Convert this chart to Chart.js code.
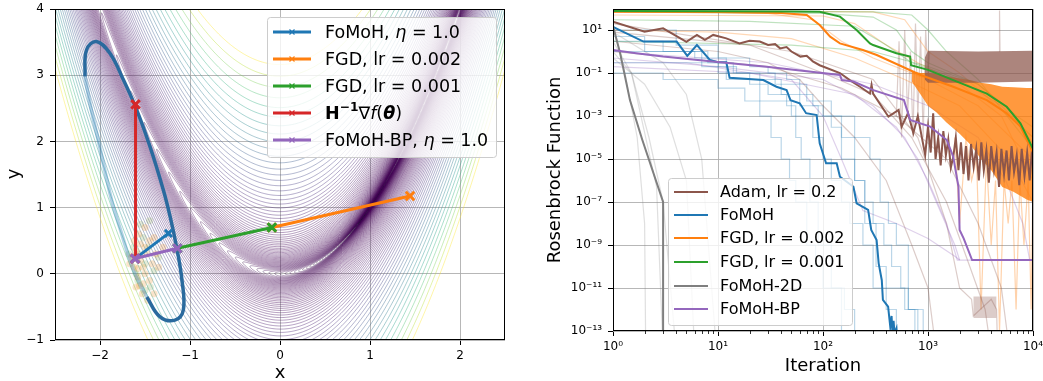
<!DOCTYPE html>
<html>
<head>
<meta charset="utf-8">
<title>FoMoH on Rosenbrock</title>
<script src="https://cdn.jsdelivr.net/npm/chart.js@4.4.1/dist/chart.umd.min.js"></script>
<style>
  html, body { margin: 0; padding: 0; background: #fff; }
  body { width: 1043px; height: 381px; position: relative; overflow: hidden; }
  canvas { position: absolute; top: 0; }
  #pathChart { left: 0; }
  #lossChart { left: 520px; }
</style>
</head>
<body>
<canvas id="pathChart" width="520" height="381"></canvas>
<canvas id="lossChart" width="523" height="381"></canvas>
<script>
const FONT = "DejaVu Sans";
Chart.defaults.font.family = FONT;
Chart.defaults.color = "#000";
Chart.defaults.animation = false;

const C = {
  blue: "#1f77b4", orange: "#ff7f0e", green: "#2ca02c", red: "#d62728",
  purple: "#9467bd", brown: "#8c564b", gray: "#7f7f7f",
};
const GRID = "rgba(170,170,170,0.85)";

// ---------- left panel: steps on the Rosenbrock surface ----------
const xTicksLeft = [-2, -1, 0, 1, 2];
const yTicksLeft = [-1, 0, 1, 2, 3, 4];

// f(x, y) = (a - x)^2 + b (y - x^2)^2
const rosenA = 1;
const rosenB = 100;
const levelDecades = [0.01, 0.1, 1, 10, 100];
const levelSteps = [1, 1.12, 1.26, 1.41, 1.58, 1.78, 2, 2.24, 2.51, 2.82,
  3.16, 3.55, 3.98, 4.47, 5.01, 5.62, 6.31, 7.08, 7.94, 8.91];
const levelTop = 1000;

const startPoint = { x: -1.61, y: 0.23 };
const fomohPath = [startPoint, { x: -1.24, y: 0.61 }];
const fgd2Path = [{ x: -0.09, y: 0.70 }, { x: 1.445, y: 1.175 }];
const fgd1Path = [{ x: -1.14, y: 0.385 }, { x: -0.09, y: 0.70 }];
const newtonPath = [startPoint, { x: -1.605, y: 2.56 }];
const fomohBpPath = [startPoint, { x: -1.14, y: 0.385 }];

const ellipseFront = [
  { x: -2.167, y: 2.98 }, { x: -2.15, y: 3.38 }, { x: -2.04, y: 3.51 },
  { x: -1.89, y: 3.33 }, { x: -1.74, y: 2.93 }, { x: -1.59, y: 2.47 },
  { x: -1.444, y: 1.92 }, { x: -1.297, y: 1.27 }, { x: -1.22, y: 0.86 },
  { x: -1.15, y: 0.41 }, { x: -1.09, y: -0.09 }, { x: -1.074, y: -0.547 },
  { x: -1.167, y: -0.70 }, { x: -1.333, y: -0.65 }, { x: -1.48, y: -0.35 },
];
const ellipseBack = [
  { x: -1.48, y: -0.35 }, { x: -1.63, y: 0.06 }, { x: -1.76, y: 0.61 },
  { x: -1.87, y: 1.11 }, { x: -2.0, y: 1.9 }, { x: -2.1, y: 2.5 },
  { x: -2.167, y: 2.98 },
];

const sampleOrange = [
  { x: -1.62, y: 0.1 }, { x: -1.58, y: -0.05 }, { x: -1.55, y: 0.2 }, { x: -1.5, y: 0.0 },
  { x: -1.52, y: -0.15 }, { x: -1.45, y: -0.1 }, { x: -1.6, y: 0.35 }, { x: -1.55, y: 0.45 },
  { x: -1.48, y: 0.3 }, { x: -1.42, y: 0.15 }, { x: -1.65, y: 0.25 }, { x: -1.57, y: 0.6 },
  { x: -1.5, y: 0.7 }, { x: -1.4, y: -0.3 }, { x: -1.45, y: 0.5 }, { x: -1.35, y: 0.1 },
  { x: -1.6, y: -0.2 }, { x: -1.53, y: -0.3 }, { x: -1.4, y: 0.55 }, { x: -1.3, y: 0.4 },
  { x: -1.67, y: 0.15 }, { x: -1.62, y: 0.5 }, { x: -1.47, y: -0.4 }, { x: -1.38, y: 0.3 },
  { x: -1.58, y: 0.08 }, { x: -1.52, y: 0.1 }, { x: -1.56, y: -0.18 }, { x: -1.5, y: 0.4 },
];
const sampleGreen = [
  { x: -1.6, y: 0.0 }, { x: -1.56, y: 0.3 }, { x: -1.5, y: 0.15 }, { x: -1.46, y: 0.4 },
  { x: -1.52, y: 0.55 }, { x: -1.44, y: -0.2 }, { x: -1.58, y: -0.1 }, { x: -1.4, y: 0.05 },
  { x: -1.63, y: 0.4 }, { x: -1.5, y: -0.25 }, { x: -1.35, y: 0.25 }, { x: -1.55, y: 0.75 },
  { x: -1.45, y: 0.8 }, { x: -1.68, y: 0.3 },
];

const pathLegend = [
  { color: C.blue, parts: [{ t: "FoMoH, " }, { t: "η", i: 1 }, { t: " = 1.0" }] },
  { color: C.orange, parts: [{ t: "FGD, lr = 0.002" }] },
  { color: C.green, parts: [{ t: "FGD, lr = 0.001" }] },
  { color: C.red, parts: [{ t: "H", b: 1 }, { t: "−1", b: 1, sup: 1 }, { t: "∇" },
    { t: "f", i: 1 }, { t: "(" }, { t: "θ", b: 1, i: 1 }, { t: ")" }] },
  { color: C.purple, parts: [{ t: "FoMoH-BP, " }, { t: "η", i: 1 }, { t: " = 1.0" }] },
];

// ---------- right panel: loss vs iteration ----------
const xMajorIt = [1, 10, 100, 1000, 10000];
const xMinorSteps = [2, 3, 4, 5, 6, 7, 8, 9];
const yMajorLoss = [1e1, 1e-1, 1e-3, 1e-5, 1e-7, 1e-9, 1e-11, 1e-13];

const adamIt = [1, 2, 3, 5, 6.3, 7.5, 9, 12, 16, 20, 25, 30, 35, 39, 45, 50, 61, 70, 80, 93,
  145, 180, 225, 280, 290, 300, 420, 525, 560, 645, 725, 800, 940,
  1000, 1060, 1120, 1180, 1250, 1320, 1400, 1480, 1560, 1650, 1740, 1840, 1950, 2060, 2180, 2300, 2430, 2570, 2720, 2880,
  3050, 3220, 3400, 3600, 3800, 4000, 4250, 4500, 4750, 5000, 5300, 5600, 5900, 6250, 6600, 7000, 7400, 7800, 8300, 8800,
  9300, 9700, 10000];
const adamLoss = [24.5, 8.3, 12, 2.8, 5.9, 3.5, 5.9, 4.1, 2.4, 3.2, 2.9, 2.0, 2.2, 1.4, 1.6, 1.0, 0.58, 0.63, 0.35, 0.23,
  0.1, 0.047, 0.023, 0.011, 0.028, 0.011, 9.3e-4, 1.9e-3, 3.2e-4, 1.35e-3, 1.6e-4, 1e-3, 1.55e-5,
  3.2e-4, 2e-5, 1.35e-3, 1e-5, 1e-4, 5e-6, 2e-4, 1.5e-5, 8e-5, 4e-6, 1.26e-5, 1e-4, 3e-6, 6e-5, 2e-6, 4e-5, 1e-6, 5e-5, 4.4e-6, 3e-5,
  1e-6, 6e-5, 3e-6, 2.5e-5, 8e-7, 4e-5, 3e-6, 2e-5, 5e-7, 3e-5, 2e-6, 2.5e-5, 1e-6, 4e-5, 2.5e-6, 1.5e-5, 6e-7, 3e-5, 1.6e-6, 2e-5,
  1e-6, 1.6e-5, 6.3e-6];

const fomohIt = [1, 1.95, 4.04, 5.1, 6.3, 8.4, 10, 12, 12.9, 27, 36, 45, 49, 60, 69, 87, 93, 107, 135, 145,
  195, 209, 269, 288, 324, 339, 363, 372, 417, 437, 450, 460, 470, 480, 501, 520];
const fomohLoss = [14.1, 2.9, 2.9, 0.63, 2.0, 0.40, 0.32, 0.32, 0.060, 0.047, 0.023, 0.016, 5.5e-3, 3.9e-3, 1.35e-3, 1.1e-3, 5.4e-5, 6.3e-6, 6.3e-6, 1.5e-6,
  5.1e-7, 8.7e-8, 4.3e-8, 5.0e-9, 1.7e-9, 1.4e-10, 2.3e-11, 2.8e-12, 1.35e-12, 1.6e-13, 5e-13, 6e-14, 3e-13, 8e-14, 1.35e-13, 1e-14];

const fgd2It = [1, 10, 40, 70, 93, 117, 145, 240, 325, 850, 1740, 3630, 5620, 7590, 10000];
const fgd2Loss = [71, 68, 62, 50, 17, 4.9, 2.4, 1.17, 0.69, 0.081, 0.023, 5.5e-3, 1.35e-3, 3.2e-4, 2e-5];

const fgd1It = [1, 10, 50, 93, 145, 209, 280, 300, 500, 676, 690, 1000, 1740, 3630, 5620, 7590, 10000];
const fgd1Loss = [76, 74, 72, 70, 42, 10, 2.4, 2.0, 0.83, 0.58, 0.23, 0.14, 0.047, 0.011, 2.7e-3, 4.6e-4, 3e-5];

const fomoh2dIt = [1, 1.17, 1.45, 1.9, 3, 3];
const fomoh2dLoss = [15, 0.83, 5.5e-3, 7.9e-5, 1e-7, 1e-14];

const fomohBpIt = [1, 1.66, 3, 8.9, 29, 145, 151, 195, 302, 590, 676, 1050, 1510, 1740, 1950, 2000, 2190, 2630, 10000];
const fomohBpLoss = [1.17, 0.83, 0.58, 0.34, 0.195, 0.081, 0.047, 0.04, 0.016, 5.5e-3, 6.5e-4, 3.2e-4, 7.6e-5, 1.26e-5, 5.1e-7, 5e-9, 2e-9, 2e-10, 2e-10];

// individual runs (faint)
const fomoh2dRunsIt = [[1, 1.3, 1.7, 2, 2.05], [1, 1.5, 2.2, 3, 4], [1, 2, 3.5, 5, 6], [1, 3, 5, 7, 9.7], [1, 1.5, 2.6, 3]];
const fomoh2dRunsLoss = [[20, 0.1, 1e-4, 1e-8, 1e-14], [3, 0.1, 1e-4, 1e-7, 1e-14], [0.5, 0.03, 3e-4, 1e-6, 1e-14],
  [8, 0.3, 1e-2, 1e-5, 1e-14], [1, 0.1, 5e-7, 1e-14]];

const fomohRunsIt = [
  [1, 3, 8, 14, 20, 30, 45, 55, 62, 75, 90, 120, 160, 200],
  [1, 4, 10, 20, 30, 45, 60, 80, 100, 150, 200, 250, 320, 400, 600, 750],
  [1, 10, 25, 40, 60, 90, 120, 150, 200, 250, 300, 380, 450, 550, 650, 800],
  [1, 6, 12, 25, 50, 80, 100, 120, 150, 180, 240, 300, 400, 500],
  [1, 2, 7, 15, 35, 70, 120, 200, 280, 350, 420, 500, 650, 900],
  [1, 3, 10, 18, 25, 32, 40, 48, 55, 70, 85, 100, 150],
];
const fomohRunsLoss = [
  [3, 1, 0.3, 0.1, 0.03, 0.01, 3e-3, 1e-4, 1e-5, 1e-7, 1e-9, 1e-11, 1e-12, 1e-14],
  [10, 2, 0.5, 0.2, 0.1, 0.05, 0.01, 3e-3, 1e-3, 1e-5, 1e-6, 1e-8, 1e-10, 1e-11, 1e-12, 1e-14],
  [0.3, 0.1, 0.05, 0.01, 3e-3, 1e-3, 3e-4, 1e-4, 1e-6, 1e-7, 1e-8, 1e-9, 1e-10, 1e-11, 1e-12, 1e-14],
  [1, 0.5, 0.05, 5e-3, 1e-3, 1e-4, 1e-5, 1e-6, 1e-7, 1e-8, 1e-9, 1e-11, 1e-12, 1e-14],
  [5, 1, 0.2, 0.1, 0.03, 5e-3, 1e-3, 1e-4, 1e-5, 1e-7, 1e-8, 1e-9, 1e-12, 1e-14],
  [0.1, 0.05, 0.02, 5e-3, 1e-3, 1e-4, 1e-5, 1e-6, 1e-7, 1e-9, 1e-10, 1e-11, 1e-14],
];

const fomohBpRunsIt = [
  [1, 10, 100, 300, 600, 1000, 1500, 1900, 10000],
  [1, 20, 200, 500, 800, 1200, 1800, 2000],
  [1, 30, 300, 1000, 3000, 5500, 8000, 9300, 10000],
  [1, 5, 50, 100, 150, 240, 500, 1000, 1800, 2000],
];
const fomohBpRunsLoss = [
  [0.5, 0.2, 0.05, 3e-3, 1e-4, 1e-6, 1e-8, 2e-10, 2e-10],
  [0.2, 0.1, 0.01, 3e-4, 1e-5, 1e-7, 1e-9, 2e-10],
  [1, 0.3, 0.03, 3e-3, 1e-4, 1e-6, 1e-8, 2e-10, 2e-10],
  [0.3, 0.3, 0.05, 1e-3, 1e-5, 4e-8, 1e-8, 2e-9, 3e-10, 2e-10],
];

const fgd1RunsIt = [[1, 100, 300, 500, 700, 1000, 3000, 6000, 10000], [1, 20, 200, 400, 700, 2000, 5000, 10000],
  [1, 50, 300, 1000, 3000, 7000, 10000], [1, 300, 700, 1000, 1500, 3000, 10000]];
const fgd1RunsLoss = [[70, 60, 40, 10, 1, 0.3, 0.03, 2e-3, 5e-5], [30, 25, 15, 2, 0.3, 0.05, 3e-3, 1e-4],
  [3, 2, 1, 0.2, 0.03, 1e-3, 3e-4], [80, 70, 50, 10, 1, 0.05, 3e-5]];

const fgd2RunsIt = [[1, 30, 80, 150, 300, 1000, 3000, 10000], [1, 100, 200, 400, 800, 2000, 5000, 10000],
  [1, 10, 50, 200, 600, 2000, 6000, 10000], [1, 300, 600, 1000, 2000, 10000]];
const fgd2RunsLoss = [[70, 60, 30, 3, 0.5, 0.05, 3e-3, 1e-5], [50, 45, 20, 2, 0.3, 0.03, 1e-3, 1e-6],
  [10, 8, 4, 0.5, 0.05, 3e-3, 1e-5, 1e-7], [80, 70, 30, 1, 0.1, 1e-4]];

const adamRunsIt = [
  [1, 10, 30, 60, 100, 200, 400, 700, 1000, 1200],
  [1, 20, 100, 300, 700, 1500, 2500, 3500, 4000],
  [1, 30, 150, 500, 1500, 3000, 5000, 6000],
  [1, 50, 300, 800, 1500, 2000, 2600, 2700, 4000, 4500, 4600],
  [500, 530, 560, 600, 640, 680, 720, 760, 800, 850, 900, 950, 1000, 1040],
  [4750, 4800, 4850],
];
const adamRunsLoss = [
  [3, 1, 0.3, 0.05, 3e-3, 1e-4, 1e-6, 1e-9, 1e-11, 1e-14],
  [8, 2, 0.1, 1e-2, 1e-4, 1e-7, 1e-10, 1e-12, 1e-14],
  [1, 0.2, 0.02, 1e-3, 1e-5, 1e-8, 1e-11, 1e-14],
  [20, 1, 0.05, 1e-4, 1e-8, 1e-11, 3e-12, 5e-13, 3e-12, 1e-12, 1e-14],
  [1e-3, 3, 1e-4, 10, 1e-3, 1, 1e-4, 20, 1e-3, 5, 1e-4, 10, 0.1, 1],
  [1, 80, 1],
];

const fgd2SpikeIt = [1800, 2000, 2300, 2600, 2900, 3200, 3600, 4000, 4400, 4800, 5300, 5800, 6300, 6900, 7500, 8200, 9000, 9600, 10000];
const fgd2SpikeLoss = [1e-4, 1e-8, 1e-4, 1e-6, 1e-5, 1e-12, 1e-5, 1e-9, 1e-6, 1e-13, 1e-6, 1e-8, 1e-6, 1e-12, 1e-6, 1e-9, 1e-6, 1e-12, 1e-6];

// dense oscillation envelopes
const adamBandIt = [930, 1000, 3000, 10000];
const adamBandHi = [0.5, 1.1, 1.0, 1.1];
const adamBandLo = [0.05, 0.035, 0.035, 0.04];
const adamBlockIt = [2700, 4500];
const adamBlockHi = [4e-12, 4e-12];
const adamBlockLo = [4e-13, 4e-13];
const fgd2BandIt = [700, 850, 1000, 1200, 1500, 2000, 2500, 3200, 4000, 5100, 6500, 8700, 10000];
const fgd2BandHi = [0.12, 0.1, 0.1, 0.09, 0.07, 0.055, 0.047, 0.035, 0.03, 0.023, 0.022, 0.02, 0.02];
const fgd2BandLo = [0.04, 0.01, 3e-3, 1.5e-3, 5e-4, 1.5e-4, 5e-5, 1e-5, 3e-6, 5e-7, 3e-7, 1.3e-7, 1e-7];

const lossLabels = ["Adam, lr = 0.2", "FoMoH", "FGD, lr = 0.002", "FGD, lr = 0.001", "FoMoH-2D", "FoMoH-BP"];
const lossColors = [C.brown, C.blue, C.orange, C.green, C.gray, C.purple];

// ---------- helpers ----------
const VIRIDIS = [[68, 1, 84], [72, 36, 117], [65, 68, 135], [53, 95, 141], [42, 120, 142], [33, 145, 140],
  [34, 168, 132], [68, 191, 112], [122, 209, 81], [189, 223, 38], [253, 231, 37]];
function viridis(t, a) {
  t = Math.min(1, Math.max(0, t)) * 10;
  const i = Math.min(9, Math.floor(t)), f = t - i;
  const c = VIRIDIS[i].map((v, k) => Math.round(v + (VIRIDIS[i + 1][k] - v) * f));
  return `rgba(${c.join(",")},${a})`;
}
function rgba(hex, a) {
  const n = parseInt(hex.slice(1), 16);
  return `rgba(${n >> 16},${(n >> 8) & 255},${n & 255},${a})`;
}
const SUP = { "-": "⁻", 0: "⁰", 1: "¹", 2: "²", 3: "³", 4: "⁴", 5: "⁵", 6: "⁶", 7: "⁷", 8: "⁸", 9: "⁹" };
const pow10Label = v => "10" + String(Math.round(Math.log10(v))).split("").map(ch => SUP[ch]).join("");
const minusLabel = v => (v < 0 ? "−" + Math.abs(v) : String(v));
const xy = (its, vals) => its.map((x, i) => ({ x, y: vals[i] }));

function drawRich(ctx, parts, x, y, size) {
  parts.forEach(p => {
    const fs = p.sup ? size * 0.7 : size;
    ctx.font = `${p.i ? "italic " : ""}${p.b ? "bold " : ""}${fs}px "${FONT}"`;
    ctx.fillText(p.t, x, p.sup ? y - size * 0.35 : y);
    x += ctx.measureText(p.t).width;
  });
}

const framePlugin = {
  id: "frame",
  afterDatasetsDraw(chart) {
    const { ctx, chartArea: a } = chart;
    ctx.save();
    ctx.strokeStyle = "#000";
    ctx.lineWidth = 1;
    ctx.strokeRect(Math.round(a.left) + 0.5, Math.round(a.top) + 0.5,
      Math.round(a.right - a.left) - 1, Math.round(a.bottom - a.top) - 1);
    ctx.restore();
  },
};

function legendPlugin(cfg) {
  return {
    id: "richLegend",
    afterDraw(chart) {
      const ctx = chart.ctx;
      const [bx, by, bw, bh] = cfg.box;
      ctx.save();
      ctx.beginPath();
      ctx.roundRect(bx + 0.5, by + 0.5, bw, bh, 3);
      ctx.fillStyle = "rgba(255,255,255,0.8)";
      ctx.fill();
      ctx.strokeStyle = "#cccccc";
      ctx.lineWidth = 1;
      ctx.stroke();
      ctx.textBaseline = "middle";
      ctx.fillStyle = "#000";
      cfg.entries.forEach((e, k) => {
        const y = cfg.rows[k];
        ctx.strokeStyle = e.color;
        ctx.lineWidth = cfg.lineWidth;
        ctx.beginPath();
        ctx.moveTo(cfg.lineX[0], y);
        ctx.lineTo(cfg.lineX[1], y);
        ctx.stroke();
        if (cfg.marker) {
          const mx = (cfg.lineX[0] + cfg.lineX[1]) / 2, r = 2.5;
          ctx.lineWidth = 1.2;
          ctx.strokeStyle = e.color;
          ctx.beginPath();
          ctx.moveTo(mx - r, y - r); ctx.lineTo(mx + r, y + r);
          ctx.moveTo(mx - r, y + r); ctx.lineTo(mx + r, y - r);
          ctx.stroke();
        }
        ctx.fillStyle = "#000";
        drawRich(ctx, e.parts, cfg.textX, y + 1, cfg.size);
      });
      ctx.restore();
    },
  };
}

function titlesPlugin(titles) {
  return {
    id: "axisTitles",
    afterDraw(chart) {
      const ctx = chart.ctx;
      ctx.save();
      ctx.fillStyle = "#000";
      ctx.textAlign = "center";
      ctx.textBaseline = "middle";
      titles.forEach(t => {
        ctx.save();
        ctx.translate(t.x, t.y);
        if (t.rot) ctx.rotate(t.rot);
        ctx.font = `${t.size}px "${FONT}"`;
        ctx.fillText(t.text, 0, 0);
        ctx.restore();
      });
      ctx.restore();
    },
  };
}

// contour lines of the Rosenbrock function, traced through the chart scales
const contourLevels = levelDecades.flatMap(d => levelSteps.map(s => d * s)).concat([levelTop]);
const contourPlugin = {
  id: "contours",
  beforeDatasetsDraw(chart) {
    const { ctx, chartArea: a, scales: { x: sx, y: sy } } = chart;
    ctx.save();
    ctx.beginPath();
    ctx.rect(a.left, a.top, a.right - a.left, a.bottom - a.top);
    ctx.clip();
    ctx.lineWidth = 1;
    contourLevels.forEach(c => {
      const r = Math.sqrt(c);
      const t0 = Math.acos(Math.min(1, (rosenA - sx.min + 0.1) / r));
      const t1 = Math.acos(Math.max(-1, (rosenA - sx.max - 0.1) / r));
      ctx.strokeStyle = viridis(c / levelTop, 0.4);
      [1, -1].forEach(side => {
        ctx.beginPath();
        for (let i = 0; i <= 400; i++) {
          const t = t0 + (t1 - t0) * i / 400;
          const xv = rosenA - r * Math.cos(t);
          const yv = xv * xv + side * r / Math.sqrt(rosenB) * Math.sin(t);
          const px = sx.getPixelForValue(xv), py = sy.getPixelForValue(yv);
          if (i) ctx.lineTo(px, py); else ctx.moveTo(px, py);
        }
        ctx.stroke();
      });
    });
    ctx.restore();
  },
};

const minorTickPlugin = {
  id: "minorTicks",
  afterDraw(chart) {
    const { ctx, chartArea: a, scales: { x } } = chart;
    ctx.save();
    ctx.strokeStyle = "#000";
    ctx.lineWidth = 0.8;
    ctx.beginPath();
    xMajorIt.slice(0, -1).forEach(d => xMinorSteps.forEach(s => {
      const px = Math.round(x.getPixelForValue(d * s)) + 0.5;
      ctx.moveTo(px, a.bottom);
      ctx.lineTo(px, a.bottom + 3);
    }));
    ctx.stroke();
    ctx.restore();
  },
};

// ---------- left chart ----------
function pathSet(data, color, radius, order) {
  return {
    data, order, borderColor: color, borderWidth: 3, tension: 0, fill: false,
    pointStyle: "crossRot", pointRadius: radius, pointBorderColor: color,
    pointBorderWidth: 3, pointBackgroundColor: color,
  };
}

new Chart(document.getElementById("pathChart"), {
  type: "line",
  data: {
    datasets: [
      pathSet(fomohBpPath, C.purple, 6, 1),
      pathSet(newtonPath, C.red, 6, 2),
      pathSet(fgd1Path, C.green, 6, 3),
      pathSet(fgd2Path, C.orange, 6, 4),
      pathSet(fomohPath, C.blue, 5, 5),
      { data: ellipseFront, order: 6, borderColor: "#2a6a9e", borderWidth: 3.5, tension: 0.4, pointRadius: 0, fill: false },
      { data: ellipseBack, order: 7, borderColor: "rgba(31,119,180,0.35)", borderWidth: 3.5, tension: 0.4, pointRadius: 0, fill: false },
      { data: sampleOrange, order: 8, showLine: false, pointRadius: 3.5, pointBorderWidth: 0, pointBackgroundColor: "rgba(230,130,20,0.22)" },
      { data: sampleGreen, order: 9, showLine: false, pointRadius: 3.5, pointBorderWidth: 0, pointBackgroundColor: "rgba(110,150,40,0.18)" },
    ],
  },
  options: {
    responsive: false,
    devicePixelRatio: 1,
    layout: { padding: { top: 9, right: 15, left: 0, bottom: 0 } },
    plugins: { legend: { display: false }, tooltip: { enabled: false } },
    scales: {
      x: {
        type: "linear", min: -2.5, max: 2.5,
        afterBuildTicks: s => { s.ticks = xTicksLeft.map(value => ({ value })); },
        afterFit: s => { s.height = 41; s.paddingLeft = 0; s.paddingRight = 0; },
        ticks: { callback: minusLabel, font: { size: 12 }, padding: 4, maxRotation: 0, autoSkip: false },
        grid: { color: GRID, lineWidth: 1, tickColor: "#000", tickLength: 5 },
        border: { display: false },
      },
      y: {
        type: "linear", min: -1, max: 4,
        afterBuildTicks: s => { s.ticks = yTicksLeft.map(value => ({ value })); },
        afterFit: s => { s.width = 55; s.paddingTop = 0; s.paddingBottom = 0; },
        ticks: { callback: minusLabel, font: { size: 12 }, padding: 6, autoSkip: false },
        grid: { color: GRID, lineWidth: 1, tickColor: "#000", tickLength: 5 },
        border: { display: false },
      },
    },
  },
  plugins: [
    contourPlugin,
    framePlugin,
    legendPlugin({ entries: pathLegend, box: [267, 17, 229, 140], rows: [32, 59, 86, 113, 140],
      lineX: [273, 311], textX: 325, size: 17.5, lineWidth: 3, marker: true }),
    titlesPlugin([
      { text: "x", x: 280, y: 373, size: 18 },
      { text: "y", x: 14, y: 174, size: 18, rot: -Math.PI / 2 },
    ]),
  ],
});

// ---------- right chart ----------
function faintSets(itsList, lossList, color, alpha, stepped) {
  return itsList.map((its, k) => ({
    data: xy(its, lossList[k]), order: 30, borderColor: rgba(color, alpha), borderWidth: 1.2,
    pointRadius: 0, fill: false, stepped: !!stepped, tension: 0,
  }));
}
function bandSets(its, hi, lo, color) {
  return [
    { data: xy(its, hi), order: 20, borderColor: "transparent", borderWidth: 0, pointRadius: 0, fill: "+1", backgroundColor: color },
    { data: xy(its, lo), order: 20, borderColor: "transparent", borderWidth: 0, pointRadius: 0, fill: false },
  ];
}
const mainSeries = [
  [adamIt, adamLoss], [fomohIt, fomohLoss], [fgd2It, fgd2Loss],
  [fgd1It, fgd1Loss], [fomoh2dIt, fomoh2dLoss], [fomohBpIt, fomohBpLoss],
];
const mainSets = mainSeries.map(([its, loss], k) => ({
  data: xy(its, loss), order: 16 - k, borderColor: lossColors[k], borderWidth: 2,
  pointRadius: 0, fill: false, tension: 0,
}));

new Chart(document.getElementById("lossChart"), {
  type: "line",
  data: {
    datasets: [
      ...mainSets,
      ...bandSets(adamBandIt, adamBandHi, adamBandLo, "rgba(140,86,75,0.72)"),
      ...bandSets(adamBlockIt, adamBlockHi, adamBlockLo, "rgba(140,86,75,0.3)"),
      ...bandSets(fgd2BandIt, fgd2BandHi, fgd2BandLo, "rgba(255,127,14,0.8)"),
      ...faintSets(fomoh2dRunsIt, fomoh2dRunsLoss, C.gray, 0.25),
      ...faintSets(fomohRunsIt, fomohRunsLoss, C.blue, 0.3, true),
      ...faintSets(fomohBpRunsIt, fomohBpRunsLoss, C.purple, 0.3),
      ...faintSets(fgd1RunsIt, fgd1RunsLoss, C.green, 0.3),
      ...faintSets(fgd2RunsIt, fgd2RunsLoss, C.orange, 0.3),
      ...faintSets(adamRunsIt, adamRunsLoss, C.brown, 0.3),
      ...faintSets([fgd2SpikeIt], [fgd2SpikeLoss], C.orange, 0.35),
    ],
  },
  options: {
    responsive: false,
    devicePixelRatio: 1,
    layout: { padding: { top: 9, right: 10, left: 0, bottom: 0 } },
    plugins: { legend: { display: false }, tooltip: { enabled: false } },
    scales: {
      x: {
        type: "logarithmic", min: 1, max: 10000,
        afterBuildTicks: s => { s.ticks = xMajorIt.map(value => ({ value })); },
        afterFit: s => { s.height = 50; s.paddingLeft = 0; s.paddingRight = 0; },
        ticks: { callback: v => pow10Label(v), font: { size: 12 }, padding: 4, maxRotation: 0, autoSkip: false },
        grid: { color: GRID, lineWidth: 1, tickColor: "#000", tickLength: 5 },
        border: { display: false },
      },
      y: {
        type: "logarithmic", min: 1e-13, max: 95,
        afterBuildTicks: s => { s.ticks = yMajorLoss.map(value => ({ value })); },
        afterFit: s => { s.width = 93; s.paddingTop = 0; s.paddingBottom = 0; },
        ticks: { callback: v => pow10Label(v), font: { size: 12 }, padding: 6, autoSkip: false },
        grid: { color: GRID, lineWidth: 1, tickColor: "#000", tickLength: 5 },
        border: { display: false },
      },
    },
  },
  plugins: [
    framePlugin,
    minorTickPlugin,
    legendPlugin({
      entries: lossLabels.map((t, k) => ({ color: lossColors[k], parts: [{ t }] })),
      box: [148, 178, 184, 147], rows: [192, 215, 238, 262, 286, 309],
      lineX: [154, 188], textX: 200, size: 16, lineWidth: 2, marker: false,
    }),
    titlesPlugin([
      { text: "Iteration", x: 303, y: 366, size: 18 },
      { text: "Rosenbrock Function", x: 35, y: 170, size: 18, rot: -Math.PI / 2 },
    ]),
  ],
});
</script>
</body>
</html>
